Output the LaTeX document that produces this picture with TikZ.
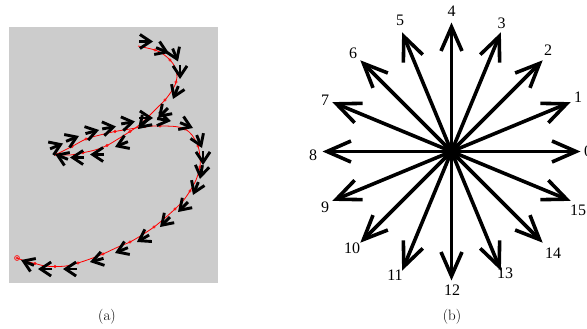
\documentclass[tikz,border=0pt]{standalone}
\usepackage{fontspec}
\newfontfamily\timesf{Liberation Serif}
\usetikzlibrary{arrows.meta,calc}
\definecolor{panelgray}{RGB}{204,204,204}
\tikzset{
  qarrow/.style={line width=2.9pt,-{Straight Barb[length=10.5pt,width=14pt]}},
  barrow/.style={line width=3.6pt,-{Straight Barb[length=24pt,width=21pt]}},
  curveline/.style={red,line width=0.8pt},
  marker/.style={red,line width=0.5pt},
  numlab/.style={font=\timesf\fontsize{16}{16}\selectfont,inner sep=0pt},
  caplab/.style={font=\fontsize{15}{15}\selectfont,inner sep=0pt}
}
\newcommand{\qarr}[3]{\draw[qarrow] ($(#1,#2)+({#3+180}:14pt)$) -- (#1,#2);}
\begin{document}
\begin{tikzpicture}[x=1pt,y=-1pt]
\useasboundingbox (0,0) rectangle (587,329);
% ---------- panel (a)
\fill[panelgray] (9,27) rectangle (218,283);
\draw[curveline] plot[smooth,tension=0.5] coordinates {
 (138,46) (155,50) (163,54) (170,60) (175,67) (177,77) (175,85) (171,92)
 (165,100) (157,108) (148,117) (138,126) (130,131.5) (118,139) (107,145.5)
 (95,150) (83,152.7) (70,155) (56,154.5)};
\draw[curveline] plot[smooth,tension=0.5] coordinates {
 (56,154.5) (64,150.5) (72,146.5) (86,139) (100,135) (115,131.5) (130,129)
 (145,126.5) (160,126) (175,126.5) (185,129) (192,135) (198,146) (200,157)
 (200,167) (196,180) (190,191) (183,201) (175,209) (165,218) (154,227)
 (142,235) (130,242) (118,247) (103,254) (90,259) (78,263) (66,266)
 (55,266.5) (45,266) (35,263.5) (25,261) (17,258)};
\foreach \p in {(155,50),(170,60),(176,82),(165,100),(148,117),(130,131.5),(107,145.5),(83,152.7),(56,154.5),
  (72,146.5),(86,139),(115,131.5),(145,126.5),(160,126),(185,129),(198,146),(200,167),(190,191),(175,209),
  (154,227),(130,242),(103,254),(78,263),(55,266.5),(35,263.5),(17,258)}
  \draw[marker] \p circle (1.3);
\draw[marker] (17,258) circle (2.5);
% quantised direction arrows
\qarr{153}{41.5}{0}
\qarr{169}{53}{-22.5}
\qarr{178}{61.5}{-67.5}
\qarr{180}{79}{-90}
\qarr{173}{99}{-112.5}
\qarr{158}{118}{-135}
\qarr{138}{129}{-135}
\qarr{115}{147}{-157.5}
\qarr{90}{154.5}{180}
\qarr{70}{157.5}{180}
\qarr{55}{154}{157.5}
\qarr{63}{143.5}{22.5}
\qarr{79}{136}{22.5}
\qarr{99}{130}{15}
\qarr{116}{126.5}{10}
\qarr{135}{121.5}{10}
\qarr{153}{118}{0}
\qarr{171}{121}{-10}
\qarr{193}{128}{-22.5}
\qarr{202}{148}{-67.5}
\qarr{203}{165}{-90}
\qarr{200}{179}{-100}
\qarr{193}{195}{-112.5}
\qarr{178}{212}{-135}
\qarr{160}{227}{-135}
\qarr{137}{242}{-150}
\qarr{115}{253}{-157.5}
\qarr{90}{262}{-165}
\qarr{63}{269}{180}
\qarr{38}{269}{180}
\qarr{21}{260}{157.5}
\node[caplab] (capa) at (107,317) {(a)};
% ---------- panel (b)
\coordinate (C) at (451.5,151.5);
\foreach \k in {0,...,15}
  \draw[barrow] (C) -- ($(C)+(\k*22.5:129pt)$);
\fill (C) circle (4.5);
\foreach \k/\x/\y in {0/588/151,1/578/97,2/548/50,3/501.5/23,4/451.5/11.5,5/400/20,
  6/353/53,7/325/100,8/313/155,9/325/207,10/352/248,11/395/275,12/452/290,
  13/505/273,14/553/253,15/578/210}
  \node[numlab] (l\k) at (\x,\y) {\k};
\node[caplab] (capb) at (452,317) {(b)};
\end{tikzpicture}
\end{document}
